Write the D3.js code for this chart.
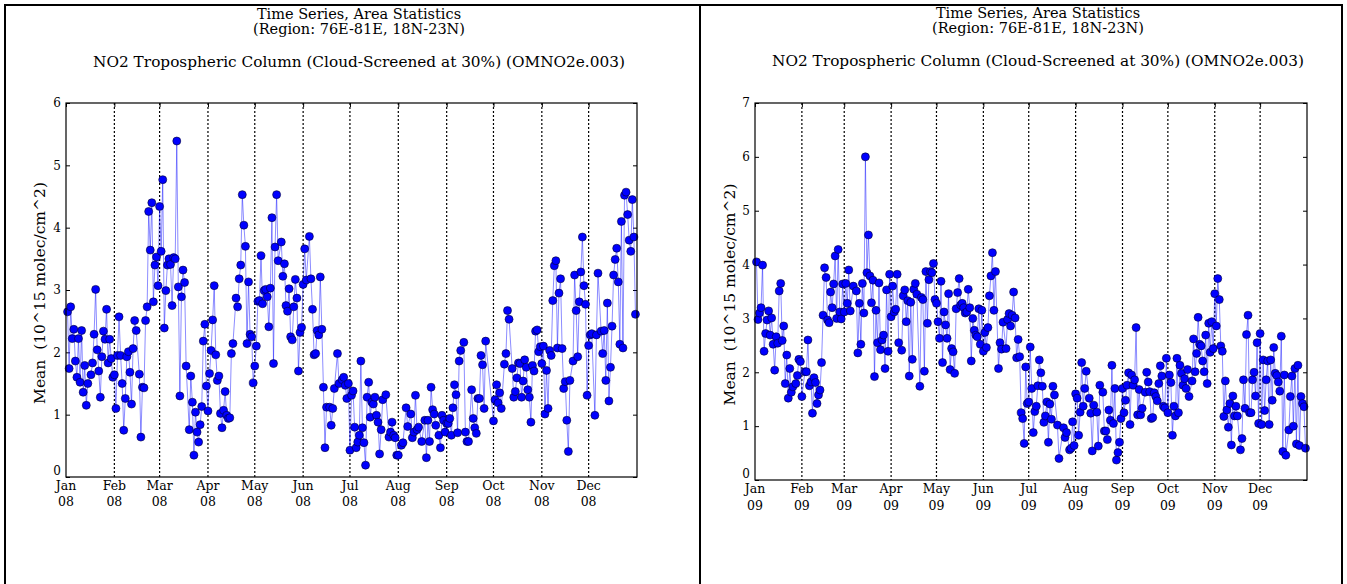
<!DOCTYPE html>
<html>
<head>
  <script src="https://d3js.org/d3.v7.min.js"></script>
  <style>
    body {
      margin: 0;
      background-color: #fff;
      overflow: hidden;
    }
    text {
      font-family: "DejaVu Serif", serif;
      fill: #000;
    }
  </style>
</head>
<body>
  <script>
    const titleLines = ["Time Series, Area Statistics", "(Region: 76E-81E, 18N-23N)"];
    const subTitle = "NO2 Tropospheric Column (Cloud-Screened at 30%) (OMNO2e.003)";
    const yLabel = "Mean  (10^15 molec/cm^2)";
    const monthNames = ["Jan", "Feb", "Mar", "Apr", "May", "Jun", "Jul", "Aug", "Sep", "Oct", "Nov", "Dec"];

    // day of year (0 = Jan 1) and daily area mean, 2008
    const days2008 = [1,2,3,4,5,6,7,8,9,10,11,12,13,14,16,17,18,19,20,21,22,23,24,25,26,27,28,29,30,31,32,33,34,35,36,37,38,39,40,41,42,43,44,45,47,48,49,50,51,52,53,54,55,56,57,58,59,60,61,62,63,64,65,66,67,68,69,70,71,72,73,74,75,76,77,79,80,81,82,83,84,85,86,87,88,89,90,91,92,93,94,95,96,97,98,99,100,101,102,103,104,105,106,107,109,110,111,112,113,114,115,116,117,118,119,120,121,122,123,124,125,126,127,128,129,130,131,132,133,134,135,136,138,139,140,141,142,143,144,145,146,147,148,149,150,151,152,153,154,156,157,158,159,160,161,162,163,164,165,166,167,169,170,171,172,174,175,177,178,179,180,181,182,183,184,185,186,187,188,189,190,191,192,193,194,195,196,197,198,199,200,201,202,203,205,207,208,209,210,211,212,213,215,216,218,219,221,222,223,224,225,226,228,230,231,232,233,234,235,236,237,239,240,241,242,243,244,245,246,247,248,249,250,251,252,253,255,256,257,258,260,261,262,263,264,265,266,267,268,269,274,275,276,277,278,279,281,282,283,284,286,287,288,289,290,291,292,293,294,295,296,297,298,299,300,301,302,303,304,305,306,307,308,309,310,311,312,313,314,315,316,317,318,319,320,321,322,323,325,326,327,328,329,330,331,332,333,334,335,336,337,339,340,341,343,344,345,346,347,348,349,350,351,352,353,354,355,356,357,358,359,360,361,362,363,364,365];
    const no2_2008 = [2.65,1.74,2.73,2.22,2.37,1.86,1.60,2.22,1.52,2.35,1.36,1.79,1.15,1.50,1.64,1.83,2.29,3.01,2.04,1.70,1.28,1.93,2.34,2.21,2.69,1.83,2.21,1.90,1.60,1.64,1.10,1.95,2.57,1.95,1.50,0.75,1.26,1.93,2.01,1.68,1.17,2.06,2.51,2.35,1.65,0.64,1.44,1.43,2.51,2.73,4.26,3.64,4.40,2.81,3.40,3.53,3.07,4.34,3.62,4.77,2.39,2.99,3.40,3.50,3.41,2.75,3.52,3.50,5.39,3.05,1.30,2.89,3.32,3.12,1.78,0.76,1.62,1.20,0.35,1.04,0.72,0.56,0.84,1.13,2.18,2.45,1.46,1.06,1.66,2.03,2.52,3.07,1.96,1.55,1.62,1.02,0.79,1.07,1.37,0.99,0.94,0.95,1.98,2.14,2.87,2.73,3.18,3.40,4.53,4.04,3.70,2.14,3.13,2.29,2.25,1.51,1.78,2.10,2.82,2.83,3.55,2.78,2.99,3.01,2.89,2.41,3.03,4.16,1.82,3.69,4.53,3.47,3.77,3.22,3.42,2.75,2.66,3.02,2.25,2.20,2.73,3.17,2.87,1.70,2.32,2.40,3.09,3.66,3.16,3.86,3.18,2.69,1.96,1.98,2.35,2.28,3.21,2.37,1.44,0.47,1.12,1.12,0.83,1.10,1.42,1.98,1.50,1.56,1.60,1.47,1.26,1.50,0.43,1.31,1.38,0.80,0.47,0.56,0.67,1.86,0.79,0.55,0.19,1.28,1.52,0.96,1.20,1.17,1.28,0.99,0.88,0.37,0.76,1.24,1.32,0.64,0.72,0.88,0.67,0.63,0.35,0.35,0.51,0.55,1.11,0.81,1.01,0.63,0.72,1.31,0.76,0.80,0.57,0.91,0.31,0.91,0.57,1.44,1.08,1.01,0.83,0.67,0.47,0.99,0.91,0.72,0.86,0.86,0.94,0.67,1.11,1.48,1.32,0.71,1.86,2.03,2.16,0.72,0.57,0.57,1.40,0.94,0.79,0.70,1.26,1.26,1.95,1.80,1.10,2.18,0.90,1.24,1.48,1.19,1.35,1.10,1.81,1.98,2.67,2.53,1.74,1.28,1.37,1.59,1.83,1.82,1.28,1.54,1.88,1.76,1.40,1.28,0.88,1.79,1.70,2.34,2.36,2.01,2.09,1.82,2.10,1.01,1.71,1.10,2.03,1.95,2.83,3.39,3.47,2.07,2.95,3.18,2.06,1.42,1.53,0.91,0.41,1.55,1.86,3.24,2.67,1.93,2.81,3.29,3.85,3.07,2.77,1.31,2.11,2.28,2.30,0.99,2.28,3.27,2.34,1.98,2.35,1.55,2.79,1.22,1.76,2.42,3.24,3.49,3.67,3.13,2.13,4.10,2.07,4.52,4.57,4.21,3.80,3.62,4.45,3.85,2.61];

    // day of year (0 = Jan 1) and daily area mean, 2009
    const days2009 = [1,2,3,4,5,6,7,8,9,10,11,12,13,14,15,16,17,18,19,20,21,22,23,24,25,27,28,29,30,31,33,34,35,36,37,38,39,40,41,42,43,44,45,46,47,48,49,50,51,52,53,54,55,56,57,58,59,60,61,62,63,65,67,68,69,70,71,72,73,74,75,76,77,78,79,80,81,82,83,84,85,86,87,88,89,90,91,92,93,94,95,97,98,99,100,101,102,103,104,105,106,107,109,110,111,112,113,114,115,116,117,118,119,120,121,122,123,124,125,126,127,128,129,130,131,132,133,134,135,136,137,138,139,140,141,142,143,144,145,146,147,148,149,150,151,152,153,154,155,156,157,158,159,161,162,163,164,166,167,168,169,170,171,172,173,174,175,176,177,178,179,180,181,182,183,184,185,186,187,188,189,190,191,192,193,194,195,196,197,198,200,201,204,205,206,208,209,210,211,212,213,214,215,216,217,218,219,221,222,223,224,226,227,228,230,231,232,233,234,235,236,237,238,239,240,241,242,243,244,245,246,247,248,249,250,251,252,253,254,255,256,258,259,260,261,262,263,264,265,266,267,268,269,270,271,272,273,274,275,276,277,278,279,280,281,282,283,284,285,286,287,289,290,291,292,293,294,295,296,297,298,299,300,301,302,303,304,305,306,307,308,309,310,311,312,313,314,315,316,317,318,319,321,322,323,324,325,326,327,328,329,330,331,332,333,334,335,336,337,338,339,340,341,342,343,344,345,346,347,348,349,350,351,353,354,355,356,357,358,359,360,361,362,363,364];
    const no2_2009 = [4.05,2.98,3.10,3.20,3.99,2.39,2.72,2.97,3.14,2.69,3.01,2.52,2.04,2.66,2.54,3.51,3.65,2.59,2.86,1.79,2.32,1.52,2.07,1.63,1.73,1.79,1.94,2.24,2.20,1.55,2.01,2.01,2.60,1.75,1.82,1.24,1.90,1.81,1.42,1.58,1.67,2.18,3.06,3.94,3.76,2.97,2.92,3.49,3.20,3.64,4.16,3.00,4.28,3.12,2.99,3.64,3.12,3.65,3.28,3.90,3.14,3.60,3.51,2.36,3.28,2.52,3.65,3.10,6.00,3.85,4.55,3.79,3.29,3.71,1.92,3.15,2.55,3.66,2.42,2.60,2.69,2.07,3.53,2.39,3.82,3.03,3.60,3.12,3.17,3.82,2.55,2.41,3.42,3.53,2.94,3.33,1.93,3.30,2.24,3.54,3.65,3.45,1.74,3.39,3.35,2.02,3.87,2.91,3.72,3.87,3.85,4.02,3.35,3.28,2.94,2.63,3.69,2.18,3.12,2.88,2.63,3.46,2.05,2.44,2.38,1.98,3.18,3.48,3.74,3.25,3.28,3.20,3.10,3.12,3.54,3.20,2.21,3.00,2.78,2.69,2.66,3.18,2.52,3.15,2.39,2.74,2.46,2.83,3.42,3.79,4.22,3.15,3.87,2.07,2.55,2.43,2.93,2.44,2.98,3.09,2.86,3.06,3.49,3.01,2.27,2.61,2.29,1.25,1.14,0.68,2.10,1.42,1.45,2.47,1.70,0.88,1.27,1.37,1.75,2.23,1.99,1.74,1.07,1.19,1.45,0.70,1.41,1.13,1.74,1.58,1.02,0.40,0.97,0.79,0.88,0.56,0.59,1.08,0.64,1.60,1.52,0.83,1.26,2.18,1.37,1.70,2.02,1.52,1.24,0.54,1.39,1.26,0.63,1.76,1.63,0.91,0.91,0.75,1.30,1.11,2.13,1.05,1.70,0.37,0.51,0.70,1.14,1.70,1.25,1.48,1.76,1.99,1.03,1.95,1.76,1.86,2.83,1.21,1.68,1.21,1.33,1.63,2.00,1.82,1.64,1.14,1.16,1.62,1.55,1.47,1.79,2.12,1.93,1.37,1.34,2.26,1.25,1.95,1.81,0.83,1.37,1.19,2.26,1.25,2.13,1.98,1.76,1.88,1.70,2.05,1.55,1.84,2.62,2.01,2.35,3.02,2.52,2.49,2.21,2.01,2.69,1.79,2.91,2.37,2.94,2.44,3.46,2.86,3.74,3.35,2.49,2.39,1.18,1.84,1.30,0.98,1.42,0.65,1.56,1.19,1.37,1.19,0.56,0.77,1.86,1.33,2.70,3.06,1.25,1.25,1.86,2.00,1.56,2.55,1.05,2.72,1.03,2.23,1.29,1.86,2.21,1.03,2.23,1.48,2.46,1.98,1.94,1.82,1.65,2.67,0.53,1.95,0.46,0.93,1.55,1.93,1.00,2.07,0.67,2.13,0.64,1.55,1.42,1.36,0.59];

    const width = 1347;
    const height = 584;

    const svg = d3.select("body").append("svg")
      .attr("width", width)
      .attr("height", height);

    const panels = [
      { year: 2008, days: days2008, values: no2_2008, yMax: 6, yy: "08",
        box: [5, 700], cx: 359, titleY: [19, 34, 67],
        left: 66, right: 637, top: 103, bottom: 477, labelY: [490, 506], yLabelX: 45 },
      { year: 2009, days: days2009, values: no2_2009, yMax: 7, yy: "09",
        box: [700, 1342], cx: 1038, titleY: [18, 33, 66],
        left: 755, right: 1307, top: 103, bottom: 480, labelY: [493, 510], yLabelX: 735 }
    ];

    panels.forEach(drawPanel);

    function drawPanel(p) {
      // panel border
      svg.append("rect")
        .attr("x", p.box[0]).attr("y", 5)
        .attr("width", p.box[1] - p.box[0]).attr("height", height + 10)
        .attr("fill", "none").attr("stroke", "#000").attr("stroke-width", 2);

      // titles
      svg.append("text").attr("x", p.cx).attr("y", p.titleY[0])
        .attr("text-anchor", "middle").attr("font-size", 14.5).text(titleLines[0]);
      svg.append("text").attr("x", p.cx).attr("y", p.titleY[1])
        .attr("text-anchor", "middle").attr("font-size", 14.5).text(titleLines[1]);
      svg.append("text").attr("x", p.cx).attr("y", p.titleY[2])
        .attr("text-anchor", "middle").attr("font-size", 15.3).text(subTitle);

      const start = new Date(p.year, 0, 1);
      const end = new Date(p.year + 1, 0, 1);
      const x = d3.scaleTime().domain([start, end]).range([p.left, p.right]);
      const y = d3.scaleLinear().domain([0, p.yMax]).range([p.bottom, p.top]);
      const months = d3.timeMonth.range(start, end);

      const data = p.days.map((d, i) => ({ date: d3.timeDay.offset(start, d), v: p.values[i] }));

      // dotted month grid
      svg.append("g")
        .selectAll("line")
        .data(months.slice(1))
        .join("line")
        .attr("x1", d => x(d)).attr("x2", d => x(d))
        .attr("y1", p.top).attr("y2", p.bottom)
        .attr("stroke", "#000").attr("stroke-width", 1.2)
        .attr("stroke-dasharray", "2,2");

      // inner ticks on all four sides
      svg.append("g")
        .attr("transform", `translate(${p.left},0)`)
        .call(d3.axisLeft(y).ticks(p.yMax).tickSize(-4).tickPadding(5))
        .call(g => g.select(".domain").remove())
        .call(g => g.selectAll("text").attr("font-size", 12).style("font-family", "DejaVu Serif"))
        .call(g => g.selectAll(".tick").filter(d => d === 0).select("text").attr("dy", "-0.25em"));

      svg.append("g")
        .attr("transform", `translate(${p.right},0)`)
        .call(d3.axisRight(y).ticks(p.yMax).tickSize(-4).tickFormat(""))
        .call(g => g.select(".domain").remove());

      svg.append("g")
        .attr("transform", `translate(0,${p.top})`)
        .call(d3.axisTop(x).tickValues(months).tickSize(-4).tickFormat(""))
        .call(g => g.select(".domain").remove());

      // two-line month labels
      const lab = svg.append("g").selectAll("text")
        .data(months)
        .join("text")
        .attr("text-anchor", "middle")
        .attr("font-size", 12.5);
      lab.append("tspan").attr("x", d => x(d)).attr("y", p.labelY[0])
        .text(d => monthNames[d.getMonth()]);
      lab.append("tspan").attr("x", d => x(d)).attr("y", p.labelY[1])
        .text(p.yy);

      // y label
      svg.append("text")
        .attr("transform", `translate(${p.yLabelX},${(p.top + p.bottom) / 2 + 3}) rotate(-90)`)
        .attr("text-anchor", "middle")
        .attr("font-size", 15.5)
        .style("white-space", "pre")
        .text(yLabel);

      // series
      const line = d3.line().x(d => x(d.date)).y(d => y(d.v));
      svg.append("path")
        .datum(data)
        .attr("d", line)
        .attr("fill", "none")
        .attr("stroke", "#0000ff")
        .attr("stroke-opacity", 0.45)
        .attr("stroke-width", 1);

      svg.append("g")
        .selectAll("circle")
        .data(data)
        .join("circle")
        .attr("cx", d => x(d.date))
        .attr("cy", d => y(d.v))
        .attr("r", 4)
        .attr("fill", "#0000ff")
        .attr("stroke", "#000033")
        .attr("stroke-width", 0.6);

      // plot frame
      svg.append("rect")
        .attr("x", p.left).attr("y", p.top)
        .attr("width", p.right - p.left).attr("height", p.bottom - p.top)
        .attr("fill", "none").attr("stroke", "#000").attr("stroke-width", 1.2);
    }
  </script>
</body>
</html>
